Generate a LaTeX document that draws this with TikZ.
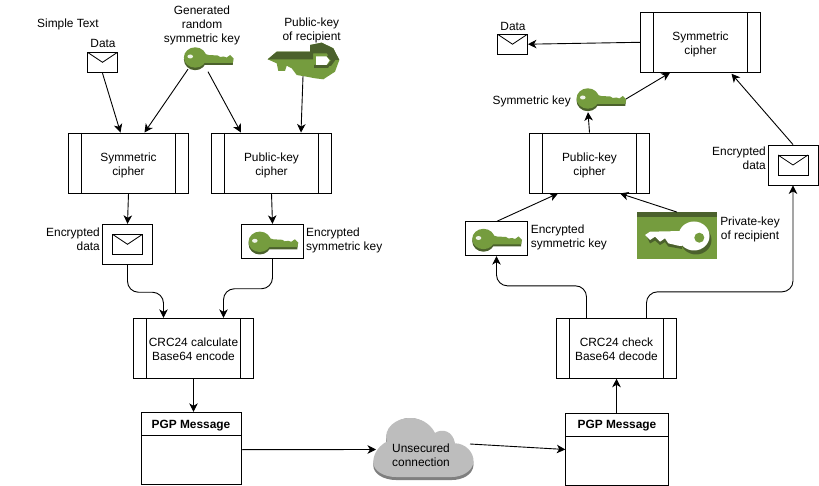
\documentclass[tikz,border=0pt]{standalone}
\usepackage{fontspec}
\setmainfont{Liberation Sans}
\usetikzlibrary{arrows.meta,calc}
\definecolor{keylight}{HTML}{759C3E}
\definecolor{keydark}{HTML}{4B612C}
\definecolor{cloudgray}{HTML}{BDBDBD}
\definecolor{cloudshade}{HTML}{7F7F7F}
\newcommand{\twolines}[2]{\raisebox{-5.8pt}[0pt][0pt]{\begin{tabular}{@{}c@{}}#1\\#2\end{tabular}}}
\tikzset{
  lbl/.style={inner sep=0pt,align=center,font=\fontsize{11.9}{14}\selectfont,execute at begin node={\rule{0pt}{12.5pt}}},
  lbll/.style={lbl,align=left,anchor=west},
  lblr/.style={lbl,align=right,anchor=east},
  boxbase/.style={draw=black,line width=0.9pt,fill=white,inner sep=0pt,align=center,font=\fontsize{11.9}{14}\selectfont},
  process/.style={boxbase,minimum width=120pt,minimum height=60pt,
    path picture={
      \draw[line width=0.9pt] ([xshift=13pt]path picture bounding box.north west) -- ([xshift=13pt]path picture bounding box.south west);
      \draw[line width=0.9pt] ([xshift=-13pt]path picture bounding box.north east) -- ([xshift=-13pt]path picture bounding box.south east);
    }},
  holder/.style={boxbase},
  pgphead/.style={boxbase,minimum height=23pt,font=\fontsize{11.9}{14}\selectfont\bfseries,execute at begin node={\rule{0pt}{11pt}}},
  envelope/.style={boxbase,minimum width=30pt,minimum height=20pt,
    path picture={
      \draw[line width=0.8pt] (path picture bounding box.north west) -- ([yshift=-10pt]path picture bounding box.north) -- (path picture bounding box.north east);
    }},
  iconbox/.style={inner sep=0pt,minimum width=#1},
  conn/.style={draw=black,line width=0.9pt,-{Stealth[length=8.5pt,width=8.5pt,inset=2.5pt]}},
  curved conn/.style={conn,rounded corners=11pt},
  greenkey/.pic={
    \fill[keydark] (-13.5,0.5) ellipse[x radius=11.3,y radius=10.7];
    \fill[keydark] (-6,-3) -- (10,-1) -- (24.5,1) -- (24,6) -- (-6,6) -- cycle;
    \fill[keylight] (-13.5,-1.5) ellipse[x radius=11.3,y radius=10.2];
    \fill[keylight] (-7,-6) -- (0,-4) -- (9,-3.5) -- (11.5,-2) -- (15,-2.5) -- (18,-1.5) -- (21.5,-4) -- (25,-0.5) -- (24,3.8) -- (-6,3.8) -- cycle;
    \fill[white!88!keylight] (-18.5,-2.5) ellipse[x radius=2.8,y radius=2];
  },
  pubkeyicon/.pic={
    \fill[keylight] (267.7,59.3) -- (276.7,63.3) -- (278.3,71) -- (285,71) -- (286.7,65.7) -- (291.7,68.3) -- (296.7,75) -- (306.7,76.7) -- (315,78.3) -- (323.3,79.3) -- (335,71.7) -- (339.3,60) -- (333.3,48.3) -- (321.7,42.7) -- (310,45) -- (310,51.7) -- (276.7,51.7) -- cycle;
    \fill[keydark] (267.7,59.3) -- (276.7,51.7) -- (310,51.7) -- (310,45) -- (321.7,42.7) -- (333.3,48.3) -- (339.3,60) -- (331,60) -- (327,53.5) -- (313,53.5) -- (313,59.3) -- cycle;
    \fill[keydark] (326.5,56) -- (331,60.5) -- (326.5,66) -- (331,66) -- (335,60.5) -- (331,55) -- cycle;
    \fill[keydark] (314,65) -- (330,65) -- (328,68) -- (314,68) -- cycle;
    \fill[white] (316,56.5) -- (326.5,56.5) -- (329.5,60.5) -- (326.5,65) -- (316,65) -- cycle;
  },
  privkeyicon/.pic={
    \fill[keylight] (636.7,212.3) rectangle (717.3,259.3);
    \fill[keydark] (636.7,212.3) rectangle (717.3,217.2);
    \fill[keydark] (696,240) ellipse[x radius=15.5,y radius=14.5];
    \fill[keydark] (647,237) -- (680,236) -- (682,249) -- (668.3,246.5) -- (665,242) -- (660,245) -- (655,240.5) -- (650,243.5) -- cycle;
    \fill[white] (694,236) ellipse[x radius=15.5,y radius=14.5];
    \fill[white] (645,235) -- (650,231.7) -- (682,231) -- (682,246) -- (678.3,245.7) -- (668.3,243.3) -- (665,238.3) -- (660,241.7) -- (655,236.7) -- (650,240) -- cycle;
    \fill[keylight] (699.3,237.7) circle[radius=5];
  },
  cloudicon/.pic={
    \fill[cloudshade] (386.7,445) .. controls (383,430) and (396,418) .. (410,418) .. controls (420,418) and (430,424) .. (435,436) .. controls (442,430) and (453,433) .. (455,446) .. controls (465,446) and (474,455) .. (473.5,465) .. controls (473,475) and (462,480) .. (452,480) -- (396,480) .. controls (384,480) and (373,474) .. (373.3,465) .. controls (373.3,456) and (380,448) .. (386.7,445) -- cycle;
    \fill[cloudgray] (386.7,441.7) .. controls (383,428) and (396,418) .. (410,418) .. controls (420,418) and (430,423) .. (435,433) .. controls (442,428) and (453,431) .. (455,443.3) .. controls (465,443.3) and (474,452) .. (473.5,461.7) .. controls (473,471) and (462,477) .. (452,477) -- (396,477) .. controls (384,477) and (373,471) .. (373.3,461.7) .. controls (373.3,453) and (380,445) .. (386.7,441.7) -- cycle;
  }
}
\begin{document}
\begin{tikzpicture}[x=1pt,y=-1pt]
\useasboundingbox (0,0) rectangle (819,486);
\fill[white] (0,0) rectangle (819,486);

% --- left side ---
\node[lbl] (simpletext) at (68,22) {Simple Text};
\node[lbl] (dataL) at (103,41.5) {Data};
\node[envelope] (envL) at (102.5,62.3) {};
\node[lbl] (genL) at (202,25.5) {Generated\\random\\symmetric key};
\node[iconbox=50pt,minimum height=25pt] (keyL) at (208.7,59) {};
\pic at (208.7,59) {greenkey};
\node[lbl] (pubL) at (311.7,30) {Public-key\\of recipient};
\node[iconbox=72pt,minimum height=38pt] (pubicon) at (303.5,61) {};
\pic at (0,0) {pubkeyicon};
\node[process] (symL) at (128.5,163) {\twolines{Symmetric}{cipher}};
\node[process] (pkL) at (271.5,163) {\twolines{Public-key}{cipher}};
\node[lblr] (edL) at (100,239) {Encrypted\\data};
\node[holder,minimum width=50pt,minimum height=40pt] (edboxL) at (127.5,244.3) {};
\node[envelope] (edenvL) at (127.5,244.3) {};
\node[holder,minimum width=62.5pt,minimum height=34pt] (ekboxL) at (272.5,241.3) {};
\pic at (273.3,243.3) {greenkey};
\node[lbll] (ekL) at (306,240) {Encrypted\\symmetric key};
\node[process] (crcL) at (193.5,348.3) {\twolines{CRC24 calculate}{Base64 encode}};
\node[pgphead,minimum width=100pt] (pgpheadL) at (191,423.8) {PGP Message};
\node[holder,minimum width=100pt,minimum height=49.5pt] (pgpbodyL) at (191,460) {};

% --- cloud ---
\pic at (0,0) {cloudicon};
\node[lbl] (cloud) at (421,455.2) {Unsecured\\connection};
\coordinate (cloudin) at (376,449.5);
\coordinate (cloudout) at (470,444);

% --- right side ---
\node[pgphead,minimum width=102.5pt] (pgpheadR) at (617,424.7) {PGP Message};
\node[holder,minimum width=102.5pt,minimum height=49pt] (pgpbodyR) at (617,460.5) {};
\node[process] (crcR) at (616.5,348.3) {\twolines{CRC24 check}{Base64 decode}};
\node[holder,minimum width=62.5pt,minimum height=34pt] (ekboxR) at (496.5,238.7) {};
\pic at (497,240.5) {greenkey};
\node[lbll] (ekR) at (530.7,237.5) {Encrypted\\symmetric key};
\node[iconbox=81pt,minimum height=47pt] (privicon) at (677,235.8) {};
\pic at (0,0) {privkeyicon};
\node[lbl] (privR) at (750,229.7) {Private-key\\of recipient};
\node[holder,minimum width=50pt,minimum height=40pt] (edboxR) at (793,165) {};
\node[envelope] (edenvR) at (793,165) {};
\node[lblr] (edR) at (766,158) {Encrypted\\data};
\node[process] (pkR) at (589.5,163) {\twolines{Public-key}{cipher}};
\node[iconbox=49pt,minimum height=24pt] (keyR) at (601.3,100) {};
\pic at (601.3,100) {greenkey};
\node[lbl] (symkeyR) at (531.7,99) {Symmetric key};
\node[process] (symR) at (700.5,42.3) {\twolines{Symmetric}{cipher}};
\node[envelope] (envR) at (512.5,44.2) {};
\node[lbl] (dataR) at (513,24) {Data};

% --- connectors, left ---
\draw[conn] ([xshift=0pt,yshift=-0.5pt]envL.south) -- ([xshift=-8pt]symL.north);
\draw[conn] ([xshift=-20.7pt,yshift=2.5pt]keyL.south) -- ([xshift=16pt]symL.north);
\draw[conn] ([xshift=-0.7pt,yshift=0pt]keyL.south) -- ([xshift=-30.5pt]pkL.north);
\draw[conn] ([xshift=-0.5pt,yshift=4pt]pubicon.south) -- ([xshift=29.5pt]pkL.north);
\draw[conn] (symL.south) -- (edboxL.north);
\draw[conn] (pkL.south) -- (ekboxL.north);
\draw[curved conn] (edboxL.south) -- ++(0,27.5) -| ([xshift=-30pt]crcL.north);
\draw[curved conn] (ekboxL.south) -- ++(0,30) -| ([xshift=30pt]crcL.north);
\draw[conn] (crcL.south) -- (crcL.south |- pgpheadL.north);
\draw[conn] ([yshift=10.3pt]pgpbodyL.east) -- (cloudin);

% --- connectors, right ---
\draw[conn] (cloudout) -- ([yshift=11pt]pgpbodyR.west);
\draw[conn] (pgpheadR.north -| crcR.south) -- (crcR.south);
\draw[curved conn] ([xshift=-30pt]crcR.north) |- ++(-45,-32) -| (ekboxR.south);
\draw[curved conn] ([xshift=30pt]crcR.north) |- ++(73,-26) -| (edboxR.south);
\draw[conn] ([xshift=0.5pt]ekboxR.north) -- ([xshift=-31.5pt]pkR.south);
\draw[conn] (privicon.north) -- ([xshift=30.5pt]pkR.south);
\draw[conn] (pkR.north) -- ([xshift=-13.3pt]keyR.south);
\draw[conn] ([yshift=1pt]keyR.east) -- ([xshift=-30.5pt]symR.south);
\draw[conn] (edboxR.north) -- ([xshift=31pt,yshift=-1pt]symR.south);
\draw[conn] (symR.west) -- (envR.east);
\end{tikzpicture}
\end{document}
